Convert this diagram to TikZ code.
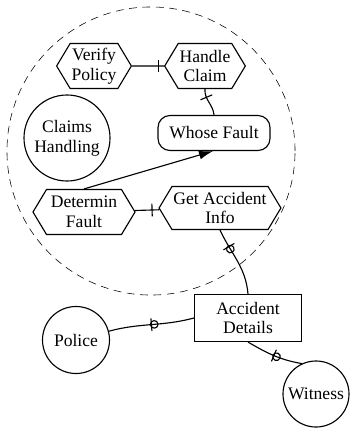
\documentclass[tikz,border=0pt]{standalone}
\usepackage{fontspec}
\setmainfont{Liberation Serif}
\newfontfamily\timesfont{Liberation Serif}
\usetikzlibrary{shapes.symbols,arrows.meta}

\begin{document}
\begin{tikzpicture}
                [
                    x=0.025cm,
                    y=-0.025cm,
                    thick,
                    font=\timesfont\fontsize{12.5}{14}\selectfont,
                    process/.style={shape=signal, signal to=west and east,
                        signal pointer angle=118, draw, align=center,
                        minimum height=1.125cm, inner sep=1pt},
                    process wide/.style={process, minimum width=2.55cm},
                    state/.style={shape=rectangle, rounded corners=0.3cm,
                        draw, minimum width=2.8cm, minimum height=0.875cm},
                    store/.style={shape=rectangle, draw, align=center,
                        minimum width=2.675cm, minimum height=1.175cm},
                    agent/.style={shape=circle, draw, align=center,
                        inner sep=0pt},
                    group/.style={shape=circle, draw, thin,
                        dash pattern=on 5.5pt off 4pt,
                        minimum size=7.2cm},
                    link/.style={-},
                    bar/.pic={\draw (0,-4.5pt) -- (0,4.5pt);},
                    bar circ/.pic={\draw (0,-4.5pt) -- (0,4.5pt);
                                   \draw (2pt,0) circle (2.7pt);}
                ]
                \useasboundingbox (0,0) rectangle (350,428);

                \node (boundary) [group] at (151,151) {};

                \node (verify policy) [process, minimum width=1.8cm]
                      at (94,66) {Verify\\Policy};
                \node (handle claim)  [process, minimum width=1.85cm]
                      at (205,66) {Handle\\Claim};
                \node (whose fault)   [state] at (214,133) {Whose Fault};
                \node (claims handling)
                      [agent, minimum size=2.15cm]
                      at (67,138) {Claims\\Handling};
                \node (determin fault) [process wide] at (84,212)
                      {Determin\\Fault};
                \node (get info) [process, minimum width=2.9cm,
                        minimum height=1.075cm]
                      at (220,208) {Get Accident\\Info};

                \node (accident details) [store] at (248,318)
                      {Accident\\Details};
                \node (police)  [agent, minimum size=1.675cm] at (76,340)
                      {Police};
                \node (witness) [agent, minimum size=1.65cm] at (316,394)
                      {Witness};

                \draw [link]
                (verify policy) to pic[pos=0.82, sloped]{bar} (handle claim)
                (handle claim.south) to[out=-95, in=95]
                    pic[pos=0.3, sloped]{bar} (whose fault.north)
                (determin fault) to pic[pos=0.7, sloped]{bar} (get info)
                (get info.south) to[out=-65, in=95]
                    pic[pos=0.25, sloped]{bar circ} (accident details.north)
                (accident details.west) to[out=195, in=15]
                    pic[pos=0.5, sloped]{bar circ} (police)
                (accident details.south) to[out=-30, in=170]
                    pic[pos=0.5, sloped]{bar circ} (witness.115)
                ;

                \draw [-{Latex[length=3.5mm, width=2.2mm]}]
                (determin fault.north) -- (whose fault.south west -| 213,0);

            \end{tikzpicture}
\end{document}
